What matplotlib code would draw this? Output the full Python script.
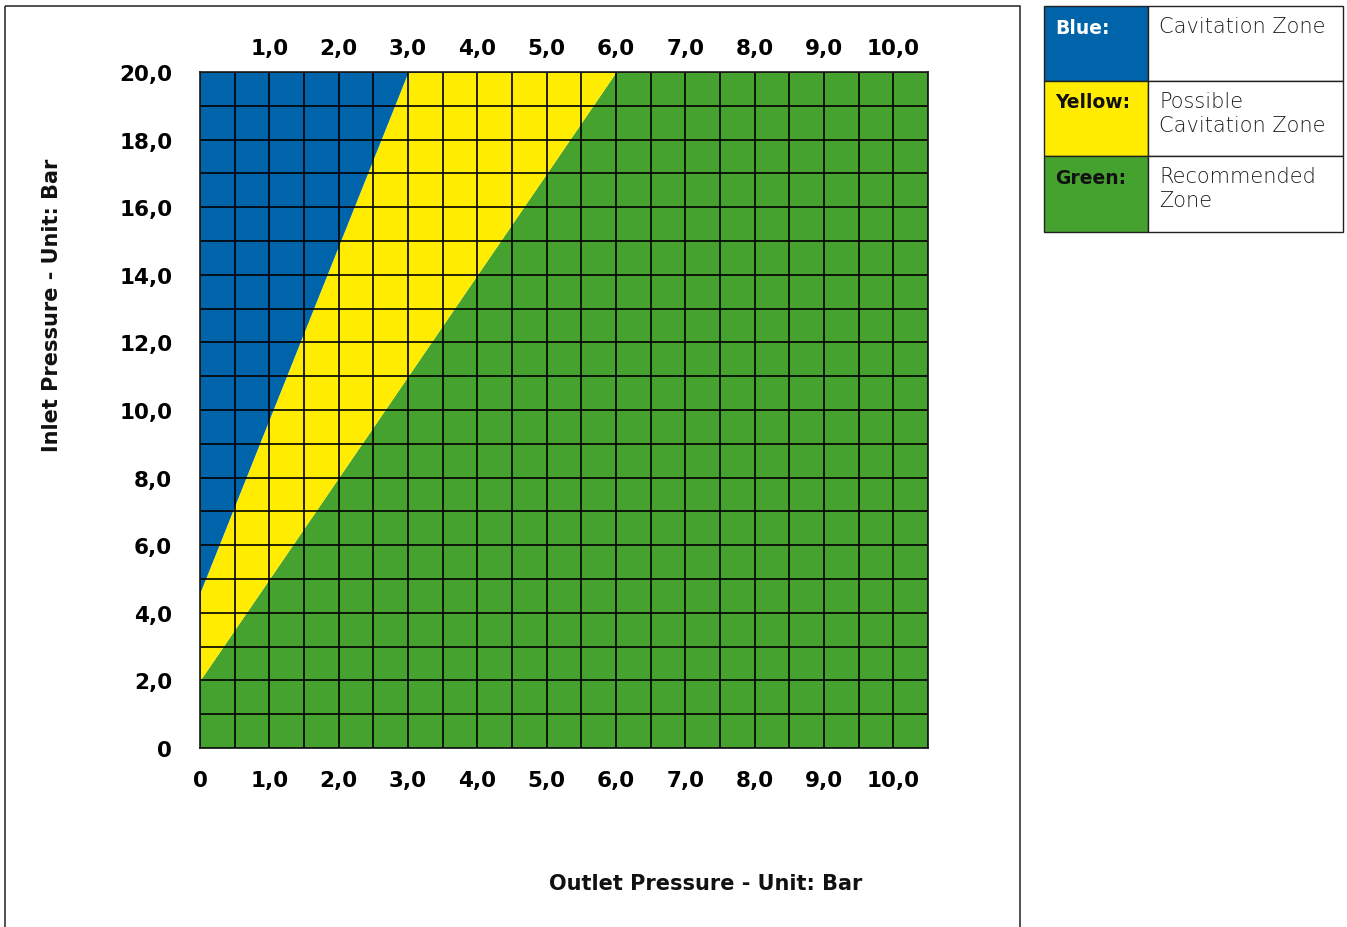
import numpy as np
import matplotlib
matplotlib.use("Agg")
import matplotlib.pyplot as plt
from matplotlib.patches import Rectangle
from matplotlib.ticker import MultipleLocator

# ---- data ----
# boundary between blue (cavitation) and yellow (possible cavitation)
blue_edge_x = [0.0, 3.0, 10.5]
blue_edge_y = [4.6, 20.0, 20.0]
# boundary between yellow and green (recommended)
green_edge_x = [0.0, 6.0, 10.5]
green_edge_y = [2.0, 20.0, 20.0]

bottom_ticks = [0, 1, 2, 3, 4, 5, 6, 7, 8, 9, 10]
bottom_labels = ["0", "1,0", "2,0", "3,0", "4,0", "5,0", "6,0", "7,0", "8,0", "9,0", "10,0"]
top_ticks = [1, 2, 3, 4, 5, 6, 7, 8, 9, 10]
top_labels = ["1,0", "2,0", "3,0", "4,0", "5,0", "6,0", "7,0", "8,0", "9,0", "10,0"]
y_ticks = [0, 2, 4, 6, 8, 10, 12, 14, 16, 18, 20]
y_labels = ["0", "2,0", "4,0", "6,0", "8,0", "10,0", "12,0", "14,0", "16,0", "18,0", "20,0"]

legend_keys = ["Blue:", "Yellow:", "Green:"]
legend_texts = ["Cavitation Zone", "Possible\nCavitation Zone", "Recommended\nZone"]

BLUE = "#0064AA"
YELLOW = "#FFEC00"
GREEN = "#45A22E"
key_text_colors = ["white", "#111111", "#111111"]
key_colors = [BLUE, YELLOW, GREEN]

W, H = 1347, 928
fig = plt.figure(figsize=(W / 100, H / 100), dpi=100)
fig.patch.set_facecolor("white")

BOLD = dict(family="DejaVu Sans", fontweight="bold")

# ---- decoration layer in pixel coords ----
deco = fig.add_axes([0, 0, 1, 1], zorder=0)
deco.set_xlim(0, W)
deco.set_ylim(H, 0)
deco.axis("off")
deco.add_patch(Rectangle((5, 7), 1015, 940, fill=False, ec="#333333", lw=1.2))

# legend table
lx0, lx1, lxm = 1044, 1343, 1148
row_edges = [7, 82, 157, 233]
for i in range(3):
    y0, y1 = row_edges[i], row_edges[i + 1]
    deco.add_patch(Rectangle((lx0, y0), lxm - lx0, y1 - y0, fc=key_colors[i], ec="#222222", lw=1.0))
    deco.add_patch(Rectangle((lxm, y0), lx1 - lxm, y1 - y0, fc="white", ec="#222222", lw=1.0))
    deco.text(lx0 + 11, y0 + 21, legend_keys[i], color=key_text_colors[i], fontsize=13.5,
              va="center", ha="left", **BOLD)
    deco.text(lxm + 11, y0 + 10, legend_texts[i], color="#1e1e1e", fontsize=15,
              va="top", ha="left", family="DejaVu Sans", fontweight="light", linespacing=1.25)

# ---- main chart ----
ax = fig.add_axes([200 / W, 1 - 749 / H, 728 / W, 676 / H], zorder=1)
ax.set_xlim(0, 10.5)
ax.set_ylim(0, 20)

xs = np.array(sorted(set(blue_edge_x) | set(green_edge_x)))
b = np.interp(xs, blue_edge_x, blue_edge_y)
g = np.interp(xs, green_edge_x, green_edge_y)
ax.fill_between(xs, 0, g, color=GREEN, lw=0, zorder=1)
ax.fill_between(xs, g, b, color=YELLOW, lw=0, zorder=1)
ax.fill_between(xs, b, 20, color=BLUE, lw=0, zorder=1)

ax.set_axisbelow(False)
ax.xaxis.set_minor_locator(MultipleLocator(0.5))
ax.yaxis.set_minor_locator(MultipleLocator(1))
ax.grid(which="both", color="black", lw=1.2, zorder=2)
for s in ax.spines.values():
    s.set_color("#1a1a1a")
    s.set_linewidth(1.2)
    s.set_zorder(3)

TICKFONT = 15.5
ax.set_xticks(bottom_ticks)
ax.set_xticklabels(bottom_labels, fontsize=TICKFONT, **BOLD)
ax.set_yticks(y_ticks)
ax.set_yticklabels(y_labels, fontsize=TICKFONT, **BOLD)
ax.tick_params(axis="both", which="both", length=0)
ax.tick_params(axis="x", pad=16)
ax.tick_params(axis="y", pad=20)

top = ax.secondary_xaxis("top")
top.set_xticks(top_ticks)
top.set_xticklabels(top_labels, fontsize=TICKFONT, **BOLD)
top.tick_params(length=0, pad=10)
for s in top.spines.values():
    s.set_visible(False)

fig.text(52 / W, 1 - 305 / H, "Inlet Pressure - Unit: Bar", rotation=90, ha="center", va="center",
         fontsize=15, color="#111111", **BOLD)
fig.text(706 / W, 1 - 884 / H, "Outlet Pressure - Unit: Bar", ha="center", va="center",
         fontsize=15, color="#111111", **BOLD)

fig.savefig("out.png", dpi=100, facecolor="white")
